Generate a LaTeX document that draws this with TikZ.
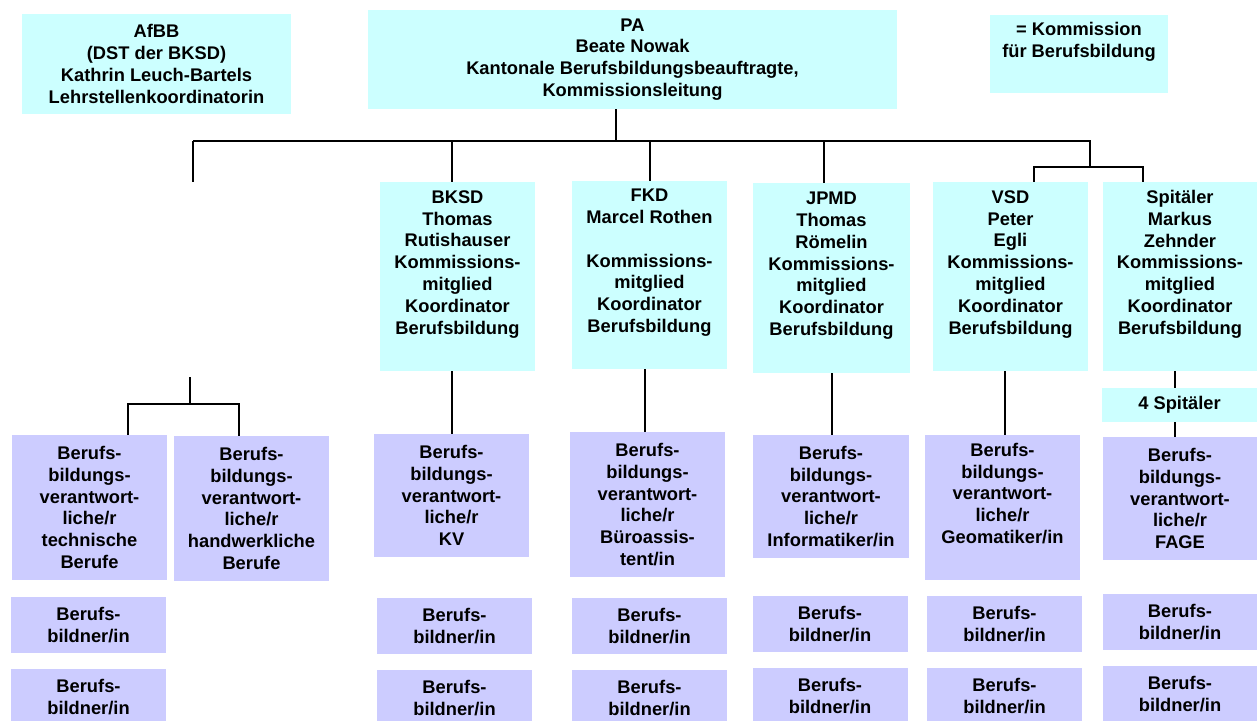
\documentclass[tikz,border=0pt]{standalone}
\usepackage{fontspec}
\setmainfont{Liberation Sans}
\usetikzlibrary{positioning}
\definecolor{kommcyan}{RGB}{204,255,255}
\definecolor{bildpurple}{RGB}{204,204,255}

\begin{document}
\begin{tikzpicture}[
      x=1pt, y=-1pt,
      kommbox/.style={
         rectangle,
         fill=kommcyan,
         inner sep=0pt,
         align=center,
         minimum width=155pt,
         font=\fontsize{18.3}{21.8}\selectfont\bfseries},
      bildbox/.style={kommbox, fill=bildpurple},
      orgline/.style={draw=black, line width=1.2pt},
      node distance=16pt
      ]
      \useasboundingbox (0,0) rectangle (1257,720);

      % top row
      \node[kommbox,minimum width=269pt,minimum height=100pt] (afbb) at (156.5,64)
         {AfBB\\(DST der BKSD)\\Kathrin Leuch-Bartels\\Lehrstellenkoordinatorin};
      \node[kommbox,minimum width=529pt,minimum height=99pt] (pa) at (632.5,59.5)
         {PA\\Beate Nowak\\Kantonale Berufsbildungsbeauftragte,\\Kommissionsleitung};
      \node[kommbox,minimum width=178pt,minimum height=78pt] (legende) at (1079,54)
         {= Kommission\\für Berufsbildung\\ \strut};

      % commission members
      \node[kommbox,minimum height=189pt] (bksd) at (457.5,276.5)
         {BKSD\\Thomas\\Rutishauser\\Kommissions-\\mitglied\\Koordinator\\Berufsbildung\\ \strut};
      \node[kommbox,minimum height=188pt] (fkd) at (649.5,275)
         {FKD\\Marcel Rothen\\ \strut\\Kommissions-\\mitglied\\Koordinator\\Berufsbildung\\ \strut};
      \node[kommbox,minimum width=157pt,minimum height=190pt] (jpmd) at (831.5,278)
         {JPMD\\Thomas\\Römelin\\Kommissions-\\mitglied\\Koordinator\\Berufsbildung\\ \strut};
      \node[kommbox,minimum height=189pt] (vsd) at (1010.5,276.5)
         {VSD\\Peter\\Egli\\Kommissions-\\mitglied\\Koordinator\\Berufsbildung\\ \strut};
      \node[kommbox,minimum width=154pt,minimum height=189pt] (spital) at (1180,276.5)
         {Spitäler\\Markus\\Zehnder\\Kommissions-\\mitglied\\Koordinator\\Berufsbildung\\ \strut};
      \node[kommbox,minimum height=34pt] (vierspital) at (1179.5,405) {4 Spitäler};

      % Berufsbildungsverantwortliche
      \node[bildbox,minimum height=145pt] (technisch) at (89.5,507.5)
         {Berufs-\\bildungs-\\verantwort-\\liche/r\\technische\\Berufe};
      \node[bildbox,minimum height=145pt] (handwerk) at (251.5,508.5)
         {Berufs-\\bildungs-\\verantwort-\\liche/r\\handwerkliche\\Berufe};
      \node[bildbox,minimum height=123pt] (kv) at (451.5,495.5)
         {Berufs-\\bildungs-\\verantwort-\\liche/r\\KV};
      \node[bildbox,minimum height=145pt] (buero) at (647.5,504.5)
         {Berufs-\\bildungs-\\verantwort-\\liche/r\\Büroassis-\\tent/in};
      \node[bildbox,minimum width=156pt,minimum height=123pt] (informatik) at (831,496.5)
         {Berufs-\\bildungs-\\verantwort-\\liche/r\\Informatiker/in};
      \node[bildbox,minimum height=145pt] (geomatik) at (1002.5,507.5)
         {Berufs-\\bildungs-\\verantwort-\\liche/r\\Geomatiker/in\\ \strut};
      \node[bildbox,minimum width=154pt,minimum height=123pt] (fage) at (1180,498.5)
         {Berufs-\\bildungs-\\verantwort-\\liche/r\\FAGE};

      % Berufsbildner/innen
      \foreach \n/\x/\y in {bbtech/88.5/625, bbkv/454.5/626, bbbuero/649.5/626,
                            bbinfo/830/624, bbgeo/1004.5/624, bbfage/1180/622}{
         \node[bildbox,minimum height=56pt] (\n) at (\x,\y) {Berufs-\\bildner/in};
         \node[bildbox,minimum height=56pt,below=of \n] (\n-2) {Berufs-\\bildner/in};
      }

      % lines
      \coordinate (stem) at (616,141);
      \coordinate (barleft) at (193,141);
      \coordinate (barright) at (1090,141);
      \coordinate (leftend) at (193,182);
      \coordinate (lefttop) at (190,377);
      \coordinate (leftfork) at (190,404);
      \coordinate (rightfork) at (1090,167);
      \draw[orgline] (stem |- pa.south) -- (stem);
      \draw[orgline] (barleft) -- (barright) -- (rightfork);
      \draw[orgline] (barleft) -- (leftend);
      \foreach \x/\n in {452/bksd, 650/fkd, 824/jpmd}
         \draw[orgline] (\x,141) -- (\x,0 |- \n.north);
      \draw[orgline] (1034,0 |- vsd.north) -- (1034,167) -- (1143,167) -- (1143,0 |- spital.north);
      \draw[orgline] (lefttop) -- (leftfork);
      \draw[orgline] (128,0 |- technisch.north) -- (128,404) -- (239,404) -- (239,0 |- handwerk.north);
      \foreach \x/\i/\j in {452/bksd/kv, 645/fkd/buero, 832/jpmd/informatik,
                            1005/vsd/geomatik, 1175/spital/vierspital, 1175/vierspital/fage}
         \draw[orgline] (\x,0 |- \i.south) -- (\x,0 |- \j.north);

\end{tikzpicture}
\end{document}
